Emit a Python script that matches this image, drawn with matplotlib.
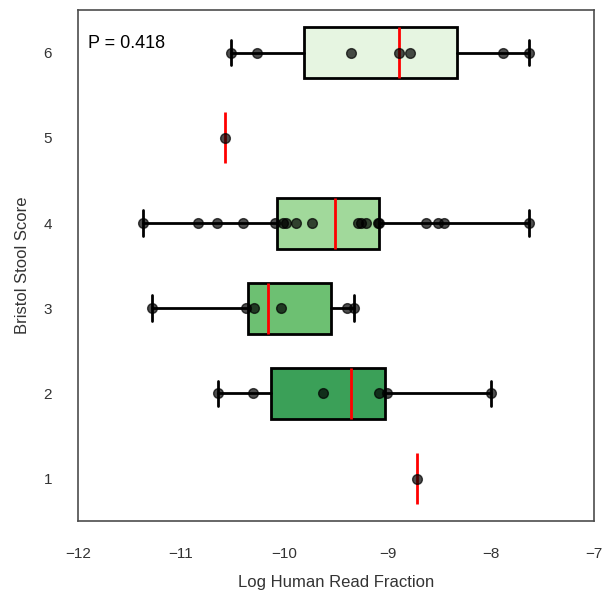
import numpy as np
import matplotlib
matplotlib.use('Agg')
import matplotlib.pyplot as plt
import seaborn as sns

# Log human read fraction per Bristol stool score
scores = [1, 2, 3, 4, 5, 6]
score1 = [-8.71]
score2 = [-10.64, -10.30, -9.62, -9.08, -9.00, -8.00]
score3 = [-11.28, -10.37, -10.29, -10.03, -9.39, -9.32]
score4 = [-11.37, -10.84, -10.65, -10.40, -10.09, -10.01, -9.98, -9.89, -9.73,
          -9.29, -9.26, -9.21, -9.09, -9.08, -8.63, -8.51, -8.45, -7.63]
score5 = [-10.57]
score6 = [-10.52, -10.26, -9.35, -8.89, -8.78, -7.88, -7.63]
p_value = 0.418

box_colors = ['#238b45', '#3ba058', '#6dc072', '#a1d99b', '#c7e9c0', '#e6f5e1']


def main():
    sns.set_style('white')
    plt.rcParams['font.family'] = ['Liberation Sans', 'DejaVu Sans']

    data = [score1, score2, score3, score4, score5, score6]

    fig = plt.figure(figsize=(6.03, 5.93), dpi=100)
    ax = fig.add_axes([0.129, 0.121, 0.856, 0.862])

    bp = ax.boxplot(data, positions=scores, vert=False, widths=0.6,
                    patch_artist=True, showfliers=False, whis=1.5,
                    boxprops=dict(edgecolor='black', linewidth=2),
                    whiskerprops=dict(color='black', linewidth=2),
                    capprops=dict(color='black', linewidth=2),
                    medianprops=dict(color='red', linewidth=2))
    for patch, col in zip(bp['boxes'], box_colors):
        patch.set_facecolor(col)

    # hide box/whisker pieces for single-sample groups, keep median
    for i, d in enumerate(data):
        if len(d) == 1:
            bp['boxes'][i].set_visible(False)
            for k in (2 * i, 2 * i + 1):
                bp['whiskers'][k].set_visible(False)
                bp['caps'][k].set_visible(False)

    for pos, d in zip(scores, data):
        ax.plot(d, [pos] * len(d), 'o', color='black', alpha=0.7,
                markersize=7, zorder=5)

    ax.set_xlim(-12, -7)
    ax.set_ylim(0.5, 6.5)
    ax.set_yticks(scores)
    ax.set_yticklabels([str(s) for s in scores])
    ax.set_xticks(np.arange(-12, -6, 1))
    ax.tick_params(labelsize=11, colors='0.2', pad=15)
    ax.set_xlabel('Log Human Read Fraction', fontsize=12, color='0.2', labelpad=10)
    ax.set_ylabel('Bristol Stool Score', fontsize=12, color='0.2', labelpad=10)
    for s in ax.spines.values():
        s.set_color('0.3')
        s.set_linewidth(1.2)

    ax.text(0.02, 0.935, 'P = %.3f' % p_value, transform=ax.transAxes,
            fontsize=13, color='black', va='center')

    fig.savefig('out.png', dpi=100)


if __name__ == "__main__":
    main()
